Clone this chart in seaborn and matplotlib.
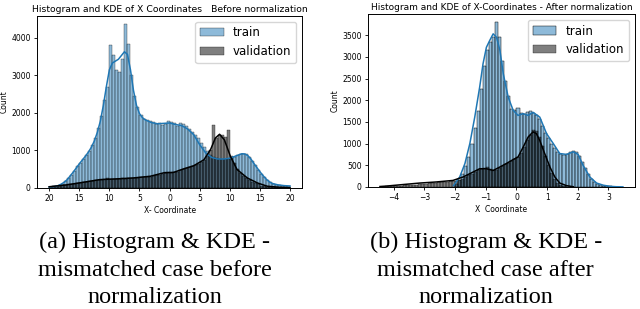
import numpy as np
import pandas as pd
import matplotlib
matplotlib.use("Agg")
import matplotlib.pyplot as plt
import seaborn as sns

# Panel (a): before normalization, bins of width 0.5 from -20 to 20
a_edges = np.arange(-20, 20.01, 0.5)
a_train = [25, 35, 45, 70, 110, 170, 250, 350, 460, 570,
           670, 770, 880, 990, 1130, 1320, 1600, 1920, 2350, 2680,
           3800, 3550, 3150, 3100, 3430, 4370, 3850, 3000, 2450, 2150,
           1950, 1850, 1800, 1780, 1760, 1700, 1720, 1690, 1700, 1780,
           1770, 1720, 1650, 1720, 1700, 1650, 1580, 1500, 1420, 1320,
           1200, 1100, 980, 880, 830, 800, 780, 770, 760, 780,
           790, 830, 870, 900, 910, 890, 820, 720, 600, 480,
           380, 290, 210, 150, 110, 80, 70, 60, 55, 50]
a_valid = [30, 40, 50, 60, 70, 80, 90, 100, 110, 120,
           130, 150, 160, 170, 180, 200, 210, 220, 230, 250,
           240, 230, 240, 245, 250, 240, 250, 260, 270, 265,
           280, 290, 300, 300, 310, 330, 350, 380, 420, 410,
           400, 420, 430, 470, 500, 520, 550, 580, 600, 640,
           680, 740, 850, 1000, 1680, 1330, 1400, 1420, 1350, 1550,
           850, 650, 500, 400, 320, 260, 200, 150, 120, 90,
           60, 40, 30, 20, 15, 10, 5, 3, 2, 1]
a_kde_train_x = [-20, -19, -18.5, -18, -17.5, -17, -16.5, -16, -15.5, -15,
                 -14.5, -14, -13.5, -13, -12.5, -12, -11.5, -11, -10.5, -10,
                 -9.5, -9, -8.5, -8, -7.5, -7, -6.5, -6, -5.5, -5,
                 -4.5, -4, -3, -2, -1, 0, 1, 2, 3, 4,
                 5, 6, 7, 8, 9, 10, 11, 12, 12.5, 13,
                 13.5, 14, 14.5, 15, 15.5, 16, 16.5, 17, 18, 19, 20]
a_kde_train_y = [25, 40, 60, 100, 150, 220, 320, 420, 530, 640,
                 740, 840, 950, 1080, 1250, 1480, 1780, 2200, 2700, 3150,
                 3330, 3380, 3430, 3530, 3630, 3560, 3150, 2600, 2200, 1980,
                 1870, 1810, 1740, 1710, 1720, 1730, 1690, 1660, 1570, 1420,
                 1150, 930, 810, 770, 770, 790, 850, 910, 905, 860,
                 770, 650, 540, 430, 330, 240, 170, 120, 80, 60, 50]
a_kde_valid_x = [-20, -17.1, -14.3, -11.6, -8.8, -6.0, -3.2, -1.0, 0.7, 2.3,
                 4.0, 5.7, 6.8, 7.6, 8.3, 9.1, 10.1, 11.2, 12.9, 14.6,
                 16.2, 17.9, 20]
a_kde_valid_y = [30, 80, 150, 220, 240, 265, 310, 400, 415, 505,
                 590, 750, 1020, 1330, 1430, 1280, 840, 490, 265, 130,
                 45, 20, 5]

# Panel (b): after normalization, bins of width 0.1
b_train_edges = np.arange(-2.0, 3.31, 0.1)
b_train = [60, 150, 300, 480, 700, 980, 1350, 1750, 2250, 2800,
           3150, 3350, 3450, 3800, 3450, 2900, 2450, 2100, 1800, 1780,
           1820, 1700, 1680, 1720, 1740, 1700, 1650, 1560, 1400, 1250,
           1120, 1000, 900, 800, 760, 740, 770, 810, 830, 800,
           720, 580, 430, 300, 190, 120, 70, 45, 30, 20,
           12, 6, 3]
b_valid_edges = np.arange(-4.4, 1.81, 0.1)
b_valid = [10, 12, 15, 18, 22, 26, 30, 35, 40, 45,
           50, 55, 62, 70, 78, 85, 92, 100, 108, 115,
           120, 125, 130, 135, 145, 160, 190, 230, 270, 310,
           350, 390, 420, 430, 470, 420, 380, 400, 440, 480,
           520, 560, 600, 640, 700, 780, 920, 1080, 1200, 1320,
           1280, 1150, 950, 720, 500, 320, 190, 100, 50, 25,
           10, 5]
b_kde_train_x = [-2.05, -1.85, -1.68, -1.52, -1.36, -1.20, -1.09, -0.98, -0.87, -0.76,
                 -0.65, -0.54, -0.43, -0.27, -0.11, 0.05, 0.22, 0.38, 0.54, 0.76,
                 0.98, 1.2, 1.41, 1.63, 1.85, 2.01, 2.17, 2.39, 2.61, 2.83,
                 3.04, 3.25, 3.47]
b_kde_train_y = [30, 230, 540, 1000, 1610, 2300, 2840, 3220, 3380, 3530,
                 3450, 3150, 2610, 2070, 1770, 1650, 1690, 1650, 1720, 1610,
                 1230, 1000, 770, 750, 810, 750, 500, 230, 90, 40,
                 15, 5, 2]
b_kde_valid_x = [-4.45, -4.24, -3.7, -3.15, -2.61, -2.07, -1.74, -1.41, -1.2, -0.98,
                 -0.76, -0.54, -0.33, -0.11, 0.05, 0.22, 0.38, 0.54, 0.65, 0.76,
                 0.92, 1.09, 1.25, 1.41, 1.63, 1.85]
b_kde_valid_y = [10, 20, 55, 90, 115, 150, 230, 345, 420, 420,
                 380, 460, 540, 630, 690, 920, 1150, 1270, 1230, 1070,
                 770, 460, 230, 90, 30, 5]

a_xticks = [-20, -15, -10, -5, 0, 5, 10, 15, 20]
a_xticklabels = ['20', '15', '10', '5', '0', '5', '10', '15', '20']
a_yticks = [0, 1000, 2000, 3000, 4000]
b_xticks = [-4, -3, -2, -1, 0, 1, 2, 3]
b_yticks = [0, 500, 1000, 1500, 2000, 2500, 3000, 3500]

captions_a = ['(a) Histogram & KDE -', 'mismatched case before', 'normalization']
captions_b = ['(b) Histogram & KDE -', 'mismatched case after', 'normalization']


def hist_frame(edges, counts):
    edges = np.asarray(edges)
    return pd.DataFrame({'x': (edges[:-1] + edges[1:]) / 2, 'w': counts})


def draw_panel(ax, edges_t, train, edges_v, valid, kt_x, kt_y, kv_x, kv_y):
    sns.histplot(data=hist_frame(edges_t, train), x='x', weights='w',
                 bins=list(edges_t), color='C0', alpha=0.5, label='train', ax=ax)
    sns.lineplot(x=kt_x, y=kt_y, color='C0', lw=1.1, sort=False, estimator=None, ax=ax)
    sns.histplot(data=hist_frame(edges_v, valid), x='x', weights='w',
                 bins=list(edges_v), color='black', alpha=0.5, label='validation', ax=ax)
    sns.lineplot(x=kv_x, y=kv_y, color='black', lw=1.1, sort=False, estimator=None, ax=ax)
    ax.legend(loc='upper right', fontsize=8.5)
    ax.set_ylabel('Count', fontsize=5.5, labelpad=2)
    ax.tick_params(labelsize=5.5, length=2.5, width=0.6, pad=2)
    for s in ax.spines.values():
        s.set_linewidth(0.7)


fig = plt.figure(figsize=(6.4, 3.09), dpi=100)
ax1 = fig.add_axes([0.058, 0.392, 0.414, 0.557])
ax2 = fig.add_axes([0.575, 0.395, 0.417, 0.56])

# Panel (a)
draw_panel(ax1, a_edges, a_train, a_edges, a_valid,
           a_kde_train_x, a_kde_train_y, a_kde_valid_x, a_kde_valid_y)
ax1.set_xlim(-22, 22)
ax1.set_ylim(0, 4590)
ax1.set_xticks(a_xticks)
ax1.set_xticklabels(a_xticklabels)
ax1.set_yticks(a_yticks)
ax1.set_xlabel('X- Coordinate', fontsize=5.5, labelpad=2)
ax1.set_title('Histogram and KDE of X Coordinates   Before normalization', fontsize=6.7, pad=3)

# Panel (b)
draw_panel(ax2, b_train_edges, b_train, b_valid_edges, b_valid,
           b_kde_train_x, b_kde_train_y, b_kde_valid_x, b_kde_valid_y)
ax2.set_xlim(-4.84, 3.86)
ax2.set_ylim(0, 3990)
ax2.set_xticks(b_xticks)
ax2.set_yticks(b_yticks)
ax2.set_xlabel('X  Coordinate', fontsize=5.5, labelpad=2)
ax2.set_title('Histogram and KDE of X-Coordinates - After normalization', fontsize=6.5, pad=3)

# Captions
for i, (ta, tb) in enumerate(zip(captions_a, captions_b)):
    y = 1 - (248 + 27.5 * i) / 309
    fig.text(0.242, y, ta, ha='center', va='baseline', family='Liberation Serif', fontsize=17.5)
    fig.text(0.759, y, tb, ha='center', va='baseline', family='Liberation Serif', fontsize=17.5)

fig.savefig('out.png', dpi=100)
